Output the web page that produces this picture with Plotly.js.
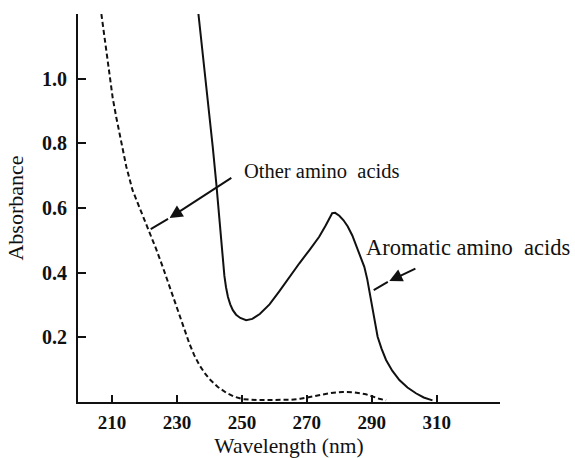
<!DOCTYPE html>
<html>
<head>
<meta charset="utf-8">
<script src="https://cdn.plot.ly/plotly-3.0.1.min.js"></script>
<style>
  html, body { margin: 0; padding: 0; background: #ffffff; }
  #chart { width: 575px; height: 458px; }
</style>
</head>
<body>
<div id="chart"></div>
<script>
// ---- Data ----
const aromaticWavelength = [236.6, 238, 239.6, 241, 242.1, 243.2, 244.1, 244.6, 245.1, 245.7, 246.4, 247.2, 248.2, 249.5, 251.3, 253.2, 255.5, 258.5, 261.5, 264.5, 267.7, 270.8, 273.8, 275.8, 277.0, 277.8, 278.7, 280.0, 281.3, 282.6, 284.0, 285.3, 286.5, 287.7, 288.6, 289.2, 289.8, 290.3, 291.0, 291.8, 293.0, 294.4, 296.3, 298.5, 301, 303.6, 306, 308.7];
const aromaticAbsorbance = [1.2, 1.07, 0.93, 0.79, 0.676, 0.54, 0.43, 0.39, 0.355, 0.325, 0.302, 0.284, 0.27, 0.26, 0.253, 0.257, 0.272, 0.302, 0.342, 0.385, 0.429, 0.47, 0.511, 0.546, 0.571, 0.584, 0.585, 0.576, 0.562, 0.543, 0.515, 0.482, 0.452, 0.418, 0.38, 0.346, 0.31, 0.274, 0.238, 0.202, 0.165, 0.13, 0.097, 0.068, 0.045, 0.027, 0.014, 0.005];

const otherWavelength = [206.7, 208, 209.2, 210.2, 211.3, 212.8, 214.4, 216.3, 218.5, 220, 221.5, 223.5, 225.6, 227.7, 229.8, 231.8, 233.8, 235.3, 236.9, 238.5, 240, 242.5, 245.1, 247.5, 250.2, 255, 260, 265, 268, 270.8, 274, 277.5, 281, 284.5, 288.2, 290.2, 292.3, 294.4];
const otherAbsorbance = [1.2, 1.10, 1.01, 0.94, 0.88, 0.8, 0.727, 0.655, 0.6, 0.565, 0.53, 0.475, 0.418, 0.356, 0.295, 0.236, 0.181, 0.145, 0.114, 0.09, 0.071, 0.047, 0.029, 0.017, 0.009, 0.006, 0.006, 0.007, 0.01, 0.016, 0.022, 0.028, 0.031, 0.03, 0.024, 0.016, 0.01, 0.005];

const xTickValues = [210, 230, 250, 270, 290, 310, 329.5];
const xTickLabels = ['210', '230', '250', '270', '290', '310', ''];
const yTickValues = [0.2, 0.4, 0.6, 0.8, 1.0];
const yTickLabels = ['0.2', '0.4', '0.6', '0.8', '1.0'];

const seriesNames = ['Aromatic amino\u00A0 acids', 'Other amino\u00A0 acids'];

// ---- Chart ----
const FONT = '"Liberation Serif", "Times New Roman", Times, serif';
const INK = '#111111';

const traces = [
  {
    x: aromaticWavelength, y: aromaticAbsorbance,
    type: 'scatter', mode: 'lines', name: seriesNames[0],
    line: { color: INK, width: 2, shape: 'linear' },
    hoverinfo: 'skip'
  },
  {
    x: otherWavelength, y: otherAbsorbance,
    type: 'scatter', mode: 'lines', name: seriesNames[1],
    line: { color: INK, width: 2, dash: '5px,3px', shape: 'linear' },
    hoverinfo: 'skip'
  }
];

const layout = {
  width: 575, height: 458,
  margin: { l: 78, r: 75, t: 14, b: 56 },
  paper_bgcolor: '#ffffff', plot_bgcolor: '#ffffff',
  showlegend: false,
  font: { family: FONT, color: INK, size: 20 },
  xaxis: {
    range: [199.5, 329.5],
    tickmode: 'array', tickvals: xTickValues, ticktext: xTickLabels,
    ticks: 'inside', ticklen: 7, tickwidth: 2, tickcolor: INK,
    showline: true, linewidth: 2, linecolor: INK,
    showgrid: false, zeroline: false, mirror: false,
    tickfont: { family: FONT, size: 19, color: INK, weight: 'bold' },
    ticklabelstandoff: 2,
    title: { text: 'Wavelength (nm)', font: { family: FONT, size: 21.5, color: INK }, standoff: 14 }
  },
  yaxis: {
    range: [0, 1.2],
    tickmode: 'array', tickvals: yTickValues, ticktext: yTickLabels,
    ticks: 'inside', ticklen: 8, tickwidth: 2, tickcolor: INK,
    showline: true, linewidth: 2, linecolor: INK,
    showgrid: false, zeroline: false, mirror: false,
    tickfont: { family: FONT, size: 20, color: INK, weight: 'bold' },
    ticklabelstandoff: 5,
    title: { text: 'Absorbance', font: { family: FONT, size: 22, color: INK }, standoff: 12 }
  },
  annotations: [
    { x: 250.0, y: 0.714, xref: 'x', yref: 'y', text: seriesNames[1], showarrow: false,
      xanchor: 'left', yanchor: 'middle', font: { family: FONT, size: 20.5, color: INK } },
    { x: 287.7, y: 0.479, xref: 'x', yref: 'y', text: seriesNames[0], showarrow: false,
      xanchor: 'left', yanchor: 'middle', font: { family: FONT, size: 22.5, color: INK } },
    { x: 227.7, y: 0.569, ax: 247.2, ay: 0.696, xref: 'x', yref: 'y', axref: 'x', ayref: 'y',
      text: '', showarrow: true, arrowhead: 2, arrowsize: 1.3, arrowwidth: 2, arrowcolor: INK },
    { x: 221.9, y: 0.535, ax: 227.7, ay: 0.569, xref: 'x', yref: 'y', axref: 'x', ayref: 'y',
      text: '', showarrow: true, arrowhead: 0, arrowwidth: 2, arrowcolor: INK },
    { x: 295.4, y: 0.374, ax: 303.9, ay: 0.415, xref: 'x', yref: 'y', axref: 'x', ayref: 'y',
      text: '', showarrow: true, arrowhead: 2, arrowsize: 1.3, arrowwidth: 2, arrowcolor: INK },
    { x: 290.6, y: 0.346, ax: 295.4, ay: 0.374, xref: 'x', yref: 'y', axref: 'x', ayref: 'y',
      text: '', showarrow: true, arrowhead: 0, arrowwidth: 2, arrowcolor: INK }
  ]
};

Plotly.newPlot('chart', traces, layout, { staticPlot: true, displayModeBar: false });
</script>
</body>
</html>
